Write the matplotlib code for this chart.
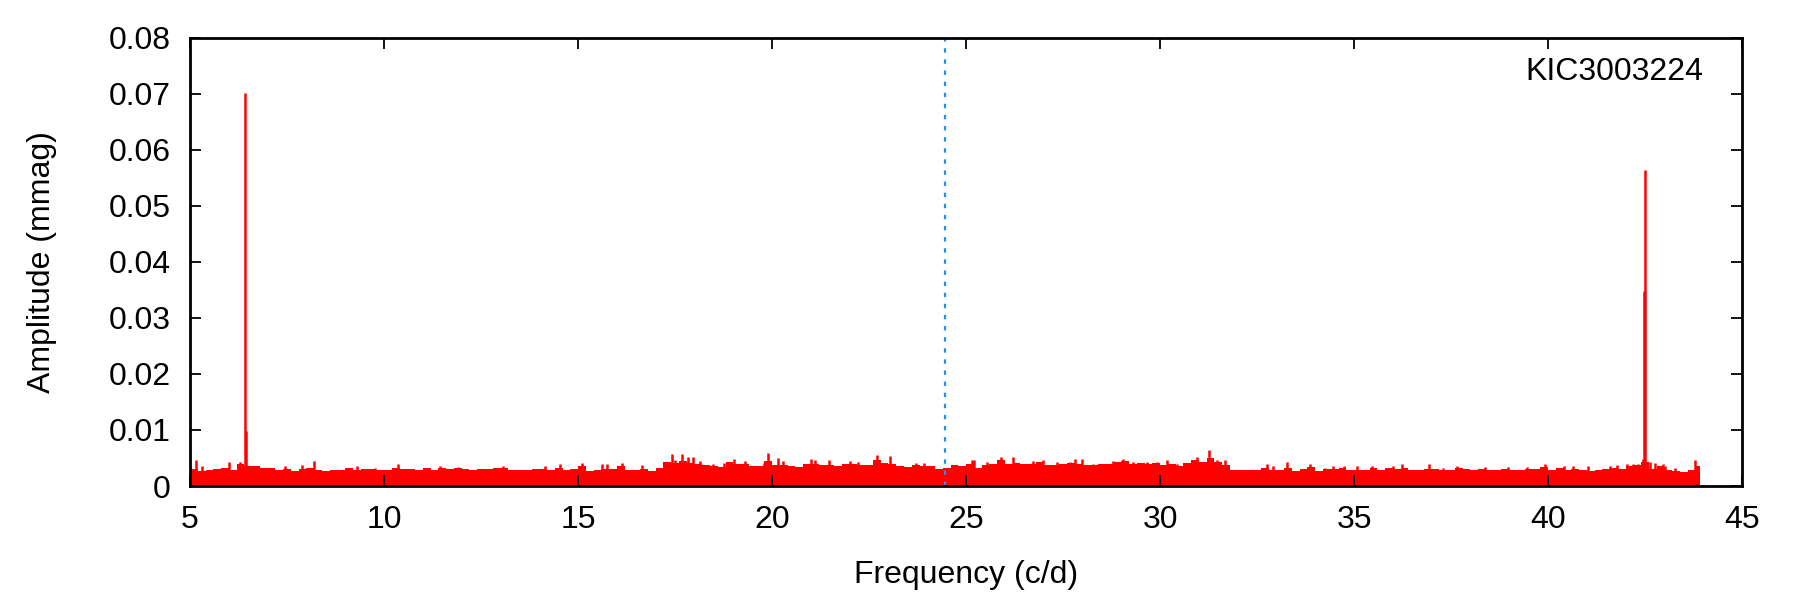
import numpy as np
import matplotlib
matplotlib.use("Agg")
import matplotlib.pyplot as plt
from matplotlib.ticker import FormatStrFormatter

plt.rcParams["font.family"] = ["Liberation Sans", "DejaVu Sans"]
plt.rcParams["font.size"] = 23

# Noise floor in 0.2 c/d bins (units of 1e-4 mmag)
noise_start = 5.0
noise_end = 43.92
noise_step = 0.2
noise_level = [
    30, 27, 28, 31, 33, 28, 40, 35, 36, 33, 32, 28, 30, 27, 30, 32, 29, 26, 28, 28,
    32, 28, 31, 30, 28, 29, 33, 31, 30, 28, 32, 29, 32, 30, 32, 30, 29,
    31, 31, 32, 32, 29, 29, 28, 31, 31, 28, 33, 28, 31, 35, 27, 29, 31, 31, 35,
    29, 29, 31, 27, 32, 42, 41, 44, 41, 40, 37, 35, 34, 43, 39, 39, 35, 35, 45, 37,
    38, 35, 34, 40, 40, 37, 38, 35, 39, 40, 37, 37, 46, 41, 40, 35, 34, 37, 35, 35,
    31, 32, 37, 35, 40, 33, 37, 40, 47, 39, 41, 39, 40, 43, 38, 37, 39, 41, 40,
    37, 37, 40, 40, 43, 44, 40, 41, 39, 41, 37, 39, 35, 41, 47, 43, 50, 43, 37, 28,
    28, 29, 29, 33, 28, 29, 33, 27, 31, 34, 27, 31, 31, 32, 28, 29, 28, 32, 28,
    32, 31, 32, 28, 29, 31, 31, 28, 29, 32, 31, 28, 31, 29, 28, 31, 29, 29, 31, 31,
    34, 28, 33, 29, 31, 28, 27, 28, 31, 32, 31, 35, 37, 43, 31, 35, 29, 27, 25, 28, 35,
]

# individual noise spikes standing above the floor
spike_freq = [5.15, 5.32, 6.0, 6.29, 7.45, 7.88, 8.2, 9.3, 9.77, 10.37, 11.1, 11.44,
              11.9, 13.07, 14.15, 14.54, 15.09, 15.61, 15.74, 16.12, 16.64, 17.24,
              17.41, 17.5, 17.67, 17.84, 17.97, 18.14, 18.49, 18.75, 19.02, 19.3,
              19.78, 19.89, 20.16, 20.29, 21.0, 21.11, 21.48, 22.01, 22.22, 22.7,
              23.04, 23.71, 23.92, 25.15, 25.21, 25.53, 25.89, 26.22, 26.73, 26.99,
              27.34, 27.68, 27.81, 27.98, 28.28, 28.8, 29.04, 29.31, 29.66, 29.91,
              30.17, 30.43, 30.77, 30.95, 31.26, 31.46, 31.67, 32.75, 32.92, 33.27,
              33.87, 34.25, 34.47, 34.73, 35.07, 35.45, 36.01, 36.23, 36.92, 37.3,
              37.65, 38.38, 38.98, 39.45, 39.92, 40.4, 40.65, 41.04, 41.6, 41.77,
              42.04, 42.2, 42.33, 42.46, 42.63, 42.76, 42.97, 43.02, 43.27, 43.79]
spike_amp = [0.0046, 0.0035, 0.0042, 0.0042, 0.0035, 0.0037, 0.0044, 0.0036, 0.0033,
             0.0039, 0.0033, 0.0035, 0.0034, 0.0035, 0.0035, 0.0039, 0.0041, 0.0039,
             0.0039, 0.0041, 0.0037, 0.0043, 0.0057, 0.0046, 0.0057, 0.0051, 0.0051,
             0.0045, 0.0040, 0.0041, 0.0049, 0.0044, 0.0041, 0.0059, 0.0050, 0.0044,
             0.0049, 0.0046, 0.0046, 0.0044, 0.0043, 0.0055, 0.0053, 0.0041, 0.0041,
             0.0046, 0.0046, 0.0043, 0.0051, 0.0051, 0.0044, 0.0046, 0.0043, 0.0042,
             0.0049, 0.0048, 0.0039, 0.0044, 0.0048, 0.0043, 0.0043, 0.0043, 0.0046,
             0.0040, 0.0041, 0.0051, 0.0064, 0.0046, 0.0046, 0.0039, 0.0035, 0.0042,
             0.0040, 0.0033, 0.0036, 0.0035, 0.0036, 0.0035, 0.0035, 0.0039, 0.0039,
             0.0033, 0.0035, 0.0034, 0.0034, 0.0034, 0.0039, 0.0036, 0.0035, 0.0036,
             0.0036, 0.0037, 0.0040, 0.0039, 0.0039, 0.0049, 0.0043, 0.0041, 0.0039,
             0.0035, 0.0033, 0.0046]

# pulsation peaks
peak_freq = [6.42, 6.45, 42.48, 42.50]
peak_amp = [0.0701, 0.0099, 0.0348, 0.0564]

nyquist = 24.47
star_name = "KIC3003224"

edges = np.append(np.arange(len(noise_level)) * noise_step + noise_start, noise_end)
levels = np.array(noise_level) * 1e-4

fig = plt.figure(figsize=(18, 6), dpi=100)
ax = fig.add_axes([0.1056, 0.19, 0.8622, 0.7467])

ax.stairs(levels, edges, fill=True, color="#ff0000", linewidth=0)
ax.vlines(spike_freq, 0, spike_amp, color="#ff0000", linewidth=1.8)
ax.vlines(peak_freq, 0, peak_amp, color="#ff0000", linewidth=1.8)
ax.axvline(nyquist, color="#1e90ff", linewidth=1.6, linestyle=(0, (2, 3)))

ax.text(0.975, 0.925, star_name, transform=ax.transAxes, ha="right", va="center")

ax.set_xlim(5, 45)
ax.set_ylim(0, 0.08)
ax.set_xticks(np.arange(5, 46, 5))
ax.set_yticks(np.arange(0, 0.081, 0.01))
ax.yaxis.set_major_formatter(FormatStrFormatter("%g"))
ax.tick_params(direction="in", length=8, width=1.3, top=True, right=True, pad=14)
for s in ax.spines.values():
    s.set_linewidth(2)

ax.set_xlabel("Frequency (c/d)", labelpad=18)
ax.set_ylabel("Amplitude (mmag)", labelpad=37)

plt.savefig("out.png", dpi=100)
